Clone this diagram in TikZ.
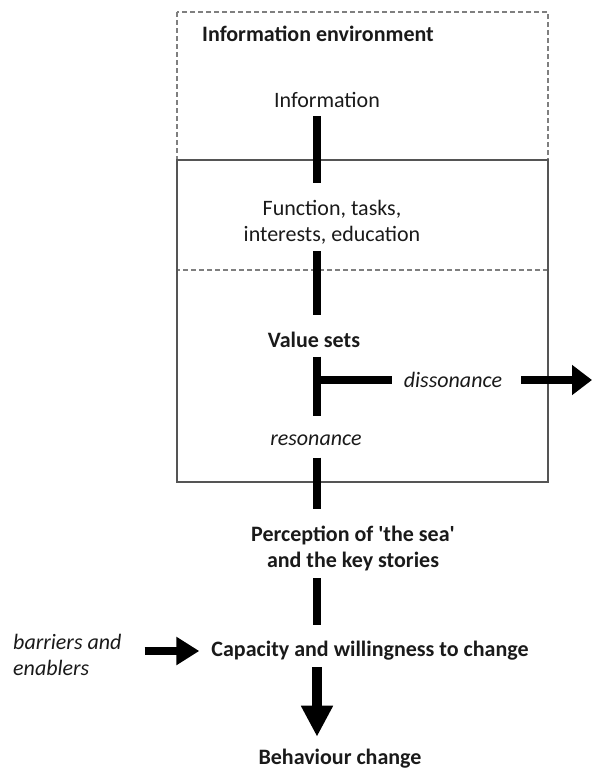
\documentclass[tikz,border=0pt]{standalone}
\usepackage{fontspec}
\setmainfont{Carlito}
\usetikzlibrary{arrows.meta, positioning}
\definecolor{inkdark}{HTML}{1A1A1A}
\definecolor{frameline}{HTML}{555555}
\definecolor{framedash}{HTML}{7F7F7F}

\begin{document}
\begin{tikzpicture}[x=1pt, y=-1pt,
      every node/.style={text=inkdark, inner sep=0pt, align=center, font=\fontsize{22}{26}\selectfont},
      strong/.style={font=\fontsize{22}{26}\selectfont\bfseries},
      soft/.style={font=\fontsize{22}{26}\selectfont\itshape},
      bar/.style={line width=8.5pt, draw=black},
      arr/.style={line width=8.5pt, draw=black, -{Triangle[length=20pt, width=29pt]}}
    ]
    \useasboundingbox (0,0) rectangle (593,771);

    % frames: information environment (dashed) and the individual (solid)
    \draw[framedash, line width=1.3pt, dash pattern=on 5pt off 3pt] (177,12) rectangle (548,270);
    \draw[frameline, line width=1.5pt] (177,160) rectangle (548,482);

    \coordinate (spine) at (317,0);
    \node[strong] (env) at (318,34) {Information environment};
    \node (info) at (327,100) {Information};
    \node (func) at (332,222) {Function, tasks,\\interests, education};
    \node[strong] (values) at (314,340) {Value sets};
    \node[soft] (reso) at (316,440) {resonance};
    \node[soft] (disso) at (453,380) {dissonance};
    \node[strong] (percep) at (353,548) {Perception of \textquotesingle the sea\textquotesingle\\and the key stories};
    \node[strong] (capac) at (370,651) {Capacity and willingness to change};
    \node[strong] (behav) at (340,759) {Behaviour change};
    \node[soft, align=left, anchor=west] (barr) at (13,655) {barriers and\\enablers};
    \coordinate (split) at (317,380);
    \coordinate (exit) at (592,380);

    % the main chain
    \draw[bar, shorten <=8.5pt, shorten >=16.5pt] (info.south -| spine) -- (func.north -| spine);
    \draw[bar, shorten <=7pt, shorten >=17.5pt] (func.south -| spine) -- (values.north -| spine);
    \draw[bar, shorten <=8.5pt, shorten >=18pt] (values.south -| spine) -- (reso.north -| spine);
    \draw[bar, shorten <=12pt, shorten >=16.5pt] (reso.south -| spine) -- (percep.north -| spine);
    \draw[bar, shorten <=7.5pt, shorten >=16pt] (percep.south -| spine) -- (capac.north -| spine);
    \draw[line width=10pt, -{Triangle[length=31pt, width=30pt]}, shorten <=6.5pt, shorten >=12.5pt]
      (capac.south -| spine) -- (behav.north -| spine);

    % side branches
    \draw[bar, shorten >=12pt] (split) -- (disso.west);
    \draw[arr, shorten <=19pt] (disso.east) -- (exit);
    \draw[line width=8pt, -{Triangle[length=23pt, width=27pt]}, shorten <=23pt, shorten >=12pt]
      (barr.east |- capac.west) -- (capac.west);
  \end{tikzpicture}
\end{document}
